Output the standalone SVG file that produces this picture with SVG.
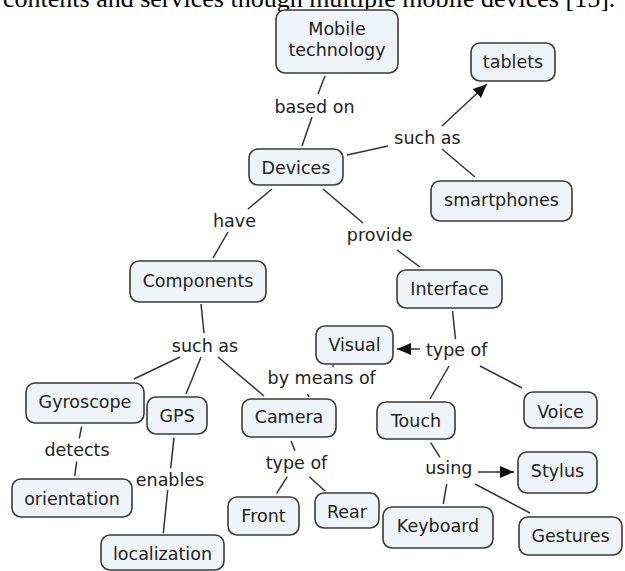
<svg xmlns="http://www.w3.org/2000/svg" width="625" height="571" viewBox="0 0 625 571">
<defs>
<marker id="arr" markerUnits="userSpaceOnUse" markerWidth="16" markerHeight="14" refX="14" refY="6" orient="auto">
<path d="M0,0 L14,6 L0,12 Z" fill="#111"/>
</marker>
<style>
.n rect{fill:#eef4f7;stroke:#3a3a3a;stroke-width:1.6}
.n text,.l{font-family:"DejaVu Sans",Verdana,sans-serif;font-size:17.5px;fill:#222;text-anchor:middle}
#connectors line{stroke:#333;stroke-width:1.5}
.hdr{font-family:"Liberation Serif","Times New Roman",serif;font-size:26px;fill:#000}
</style>
</defs>
<rect width="625" height="571" fill="#fff"/>
<text class="hdr" x="3" y="7">contents and services though multiple mobile devices [15].</text>
<g id="connectors">
<line x1="325" y1="76" x2="318" y2="94"/>
<line x1="312" y1="117" x2="302" y2="146"/>
<line x1="347" y1="155" x2="388" y2="146"/>
<line x1="442" y1="126" x2="487" y2="84" marker-end="url(#arr)"/>
<line x1="442" y1="149" x2="475" y2="177"/>
<line x1="272" y1="189" x2="248" y2="209"/>
<line x1="228" y1="232" x2="213" y2="258"/>
<line x1="323" y1="189" x2="363" y2="223"/>
<line x1="397" y1="250" x2="420" y2="267"/>
<line x1="452.5" y1="311" x2="455.5" y2="339"/>
<line x1="420" y1="349" x2="397" y2="349" marker-end="url(#arr)"/>
<line x1="449" y1="366" x2="430" y2="399"/>
<line x1="480" y1="366" x2="522" y2="388"/>
<line x1="201" y1="304" x2="204" y2="333"/>
<line x1="180" y1="357" x2="134" y2="379"/>
<line x1="201" y1="357" x2="186" y2="394"/>
<line x1="218" y1="357" x2="264" y2="396"/>
<line x1="333" y1="365" x2="333.3" y2="367"/>
<line x1="307.3" y1="394.3" x2="309.3" y2="396.7"/>
<line x1="81.7" y1="426.7" x2="79.3" y2="438.3"/>
<line x1="76.7" y1="461.7" x2="74.7" y2="476"/>
<line x1="174" y1="437.7" x2="170.7" y2="468.3"/>
<line x1="167.7" y1="490" x2="163.3" y2="533.3"/>
<line x1="291" y1="441" x2="295" y2="450.7"/>
<line x1="287.3" y1="476.7" x2="276.7" y2="493.3"/>
<line x1="309.3" y1="476.7" x2="325" y2="491"/>
<line x1="430.7" y1="442.7" x2="440" y2="457.3"/>
<line x1="478" y1="472" x2="514" y2="472" marker-end="url(#arr)"/>
<line x1="446.7" y1="484" x2="443.3" y2="504"/>
<line x1="475" y1="484" x2="530" y2="513"/>
</g>
<g id="labels">
<text class="l" x="314.5" y="113">based on</text>
<text class="l" x="427.5" y="144">such as</text>
<text class="l" x="234.5" y="227">have</text>
<text class="l" x="379.7" y="241">provide</text>
<text class="l" x="456.7" y="356">type of</text>
<text class="l" x="205" y="352">such as</text>
<text class="l" x="321.7" y="384">by means of</text>
<text class="l" x="77" y="456">detects</text>
<text class="l" x="170" y="485.5">enables</text>
<text class="l" x="296.5" y="469">type of</text>
<text class="l" x="448.8" y="474">using</text>
</g>
<g id="mobile" class="n"><rect x="276" y="10" width="122" height="63" rx="9"/><text x="337" y="35">Mobile</text><text x="337" y="56">technology</text></g>
<g id="tablets" class="n"><rect x="471" y="43" width="84" height="38" rx="9"/><text x="513" y="68">tablets</text></g>
<g id="devices" class="n"><rect x="249" y="149" width="94" height="36" rx="9"/><text x="296" y="173.5">Devices</text></g>
<g id="smartphones" class="n"><rect x="431" y="181" width="141" height="40" rx="9"/><text x="501.5" y="206">smartphones</text></g>
<g id="components" class="n"><rect x="130" y="261" width="136" height="41" rx="9"/><text x="198" y="287">Components</text></g>
<g id="interface" class="n"><rect x="397" y="270" width="105" height="38" rx="9"/><text x="449.5" y="295">Interface</text></g>
<g id="visual" class="n"><rect x="316" y="326" width="77" height="38" rx="9"/><text x="354.5" y="351">Visual</text></g>
<g id="gyroscope" class="n"><rect x="26" y="383" width="118" height="40" rx="9"/><text x="85" y="408">Gyroscope</text></g>
<g id="gps" class="n"><rect x="147" y="397" width="60" height="37" rx="9"/><text x="177" y="422">GPS</text></g>
<g id="camera" class="n"><rect x="242" y="399" width="94" height="38" rx="9"/><text x="289" y="423">Camera</text></g>
<g id="touch" class="n"><rect x="377" y="402" width="78" height="37" rx="9"/><text x="416" y="427">Touch</text></g>
<g id="voice" class="n"><rect x="524" y="392" width="73" height="36" rx="9"/><text x="560.5" y="418">Voice</text></g>
<g id="orientation" class="n"><rect x="12" y="479" width="120" height="38" rx="9"/><text x="72" y="505">orientation</text></g>
<g id="stylus" class="n"><rect x="518" y="452" width="79" height="41" rx="9"/><text x="557.5" y="477">Stylus</text></g>
<g id="front" class="n"><rect x="228" y="497" width="71" height="38" rx="9"/><text x="263.5" y="522">Front</text></g>
<g id="rear" class="n"><rect x="315" y="493" width="64" height="35" rx="9"/><text x="347" y="518">Rear</text></g>
<g id="keyboard" class="n"><rect x="383" y="507" width="110" height="41" rx="9"/><text x="438" y="532">Keyboard</text></g>
<g id="gestures" class="n"><rect x="519" y="517" width="103" height="38" rx="9"/><text x="570.5" y="542">Gestures</text></g>
<g id="localization" class="n"><rect x="101" y="535" width="123" height="35" rx="9"/><text x="162.5" y="560">localization</text></g>
</svg>
